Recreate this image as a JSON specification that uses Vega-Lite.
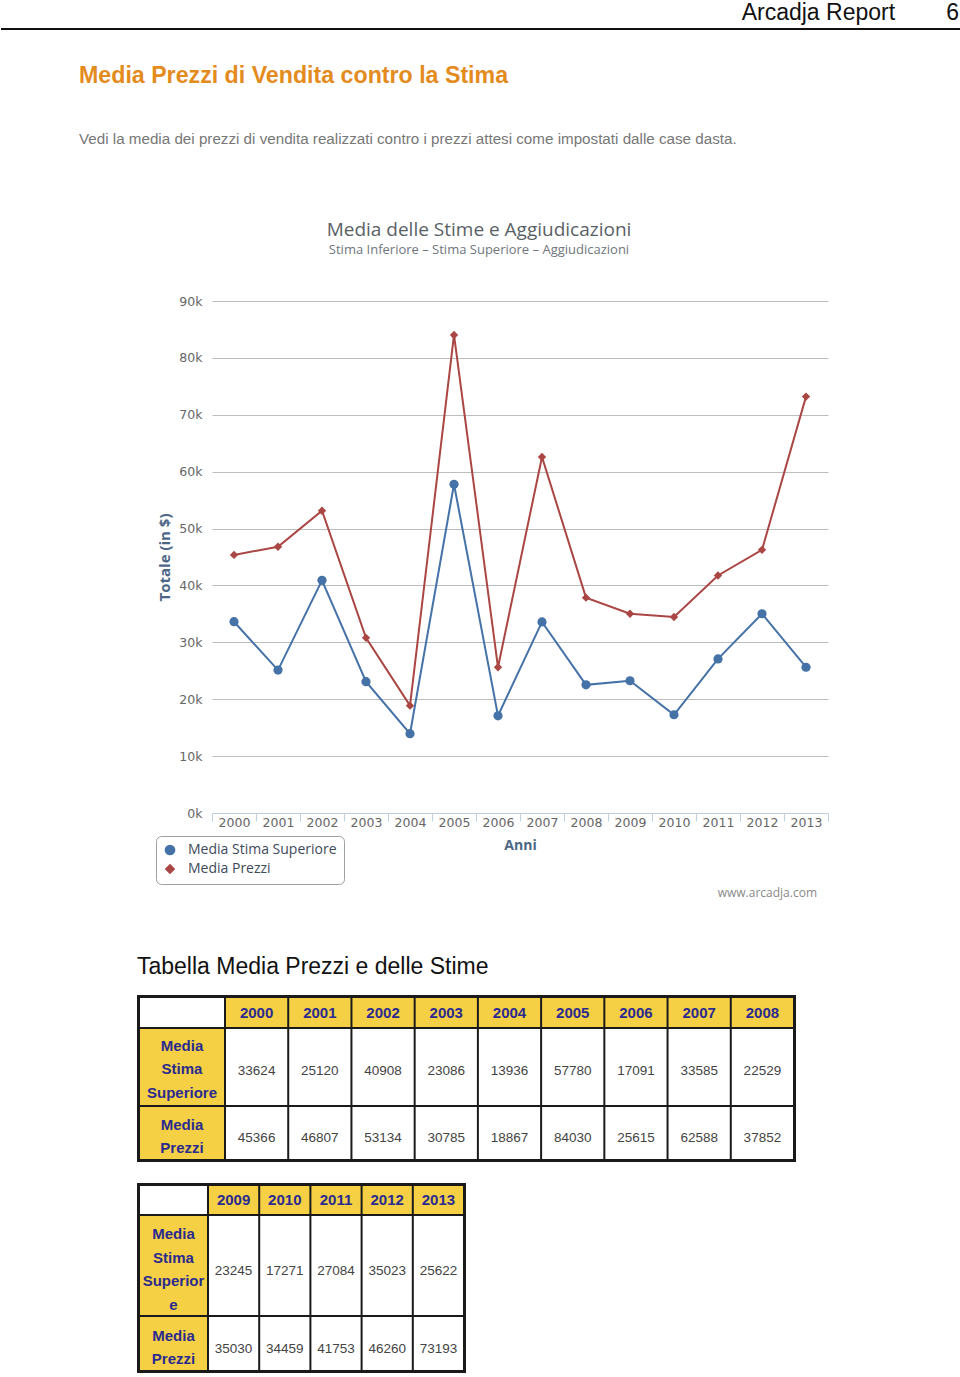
{
  "$schema": "https://vega.github.io/schema/vega-lite/v6.json",
  "padding": {"left": 0, "top": 2, "right": 0, "bottom": 0},
  "background": "#ffffff",
  "spacing": 0,
  "config": {"view": {"stroke": null}},
  "datasets": {
    "series": [
      {"year": "2000", "serie": "Media Stima Superiore", "valore": 33624},
      {"year": "2001", "serie": "Media Stima Superiore", "valore": 25120},
      {"year": "2002", "serie": "Media Stima Superiore", "valore": 40908},
      {"year": "2003", "serie": "Media Stima Superiore", "valore": 23086},
      {"year": "2004", "serie": "Media Stima Superiore", "valore": 13936},
      {"year": "2005", "serie": "Media Stima Superiore", "valore": 57780},
      {"year": "2006", "serie": "Media Stima Superiore", "valore": 17091},
      {"year": "2007", "serie": "Media Stima Superiore", "valore": 33585},
      {"year": "2008", "serie": "Media Stima Superiore", "valore": 22529},
      {"year": "2009", "serie": "Media Stima Superiore", "valore": 23245},
      {"year": "2010", "serie": "Media Stima Superiore", "valore": 17271},
      {"year": "2011", "serie": "Media Stima Superiore", "valore": 27084},
      {"year": "2012", "serie": "Media Stima Superiore", "valore": 35023},
      {"year": "2013", "serie": "Media Stima Superiore", "valore": 25622},
      {"year": "2000", "serie": "Media Prezzi", "valore": 45366},
      {"year": "2001", "serie": "Media Prezzi", "valore": 46807},
      {"year": "2002", "serie": "Media Prezzi", "valore": 53134},
      {"year": "2003", "serie": "Media Prezzi", "valore": 30785},
      {"year": "2004", "serie": "Media Prezzi", "valore": 18867},
      {"year": "2005", "serie": "Media Prezzi", "valore": 84030},
      {"year": "2006", "serie": "Media Prezzi", "valore": 25615},
      {"year": "2007", "serie": "Media Prezzi", "valore": 62588},
      {"year": "2008", "serie": "Media Prezzi", "valore": 37852},
      {"year": "2009", "serie": "Media Prezzi", "valore": 35030},
      {"year": "2010", "serie": "Media Prezzi", "valore": 34459},
      {"year": "2011", "serie": "Media Prezzi", "valore": 41753},
      {"year": "2012", "serie": "Media Prezzi", "valore": 46260},
      {"year": "2013", "serie": "Media Prezzi", "valore": 73193}
    ],
    "labels": [
      {"tabella": 1, "row": "h", "label": ""},
      {"tabella": 1, "row": "s", "label": "Media\nStima\nSuperiore"},
      {"tabella": 1, "row": "p", "label": "Media\nPrezzi"},
      {"tabella": 2, "row": "h", "label": ""},
      {"tabella": 2, "row": "s", "label": "Media\nStima\nSuperior\ne"},
      {"tabella": 2, "row": "p", "label": "Media\nPrezzi"}
    ],
    "vuoto": [{"t": ""}],
    "intestazione": [{"linea": 0}],
    "marchio": [{"sito": "www.arcadja.com"}]
  },
  "vconcat": [
    {
      "width": 960, "height": 34,
      "title": {"text": "Arcadja Report\u00a0\u00a0\u00a0\u00a0\u00a0\u00a0\u00a0\u00a06", "anchor": "end", "frame": "group", "font": "Liberation Sans", "fontSize": 23, "fontWeight": "normal", "color": "#111111", "offset": 3, "dx": -2},
      "data": {"name": "intestazione"},
      "mark": {"type": "rule", "color": "#111111", "strokeWidth": 2},
      "encoding": {"y": {"field": "linea", "type": "quantitative", "scale": {"domain": [0, 1], "reverse": true}, "axis": null}}
    },
    {
      "width": 960, "height": 73,
      "title": {"text": "Media Prezzi di Vendita contro la Stima", "subtitle": "Vedi la media dei prezzi di vendita realizzati contro i prezzi attesi come impostati dalle case dasta.", "anchor": "start", "frame": "group", "dx": 78, "offset": 0, "font": "Liberation Sans", "fontSize": 23.2, "fontWeight": "bold", "color": "#E48B1E", "subtitleFont": "Liberation Sans", "subtitleFontSize": 15.2, "subtitleColor": "#777777", "subtitlePadding": 44},
      "data": {"name": "vuoto"},
      "mark": {"type": "text"},
      "encoding": {"text": {"field": "t"}}
    },
    {
      "spacing": 0,
      "hconcat": [
        {"width": 156, "height": 655, "data": {"name": "vuoto"}, "mark": {"type": "text"}, "encoding": {"text": {"field": "t"}}},
        {
          "width": 616, "height": 512,
          "title": {"text": "Media delle Stime e Aggiudicazioni", "subtitle": "Stima Inferiore \u2013 Stima Superiore \u2013 Aggiudicazioni", "anchor": "middle", "frame": "group", "dx": -41, "offset": 38, "font": "Open Sans", "fontSize": 19, "fontWeight": "normal", "color": "#5a5f66", "subtitleFont": "Open Sans", "subtitleFontSize": 13, "subtitleColor": "#70767e", "subtitlePadding": 4},
          "data": {"name": "series"},
          "layer": [
            {
              "mark": {"type": "line", "strokeWidth": 2},
              "encoding": {
                "x": {"field": "year", "type": "ordinal", "scale": {"type": "band", "paddingInner": 0, "paddingOuter": 0},
                  "axis": {"title": "Anni", "labelAngle": 0, "tickBand": "extent", "tickSize": 8, "tickColor": "#C0D0E0", "domainColor": "#C0D0E0", "labelFont": "DejaVu Sans", "labelFontSize": 12.5, "labelColor": "#666666", "labelPadding": -5, "titleFont": "Open Sans", "titleFontSize": 14, "titleFontWeight": "bold", "titleColor": "#4d6685", "titlePadding": 10, "grid": false}},
                "y": {"field": "valore", "type": "quantitative", "scale": {"domain": [0, 90000], "nice": false, "zero": true},
                  "axis": {"title": "Totale (in $)", "values": [0, 10000, 20000, 30000, 40000, 50000, 60000, 70000, 80000, 90000], "labelExpr": "(datum.value / 1000) + 'k'", "grid": true, "gridColor": "#bdbdbd", "gridWidth": 1, "domain": false, "ticks": false, "labelPadding": 10, "labelFont": "DejaVu Sans", "labelFontSize": 12.5, "labelColor": "#666666", "titleFont": "Open Sans", "titleFontSize": 15, "titleFontWeight": "bold", "titleColor": "#4d6685", "titlePadding": 6}},
                "color": {"field": "serie", "type": "nominal", "scale": {"domain": ["Media Stima Superiore", "Media Prezzi"], "range": ["#4572A7", "#AA4643"]},
                  "legend": {"title": null, "orient": "none", "legendX": 155, "legendY": 807, "direction": "vertical", "padding": 7, "strokeColor": "#a0a0a0", "fillColor": "#ffffff", "cornerRadius": 5, "labelFont": "Open Sans", "labelFontSize": 14, "labelColor": "#3E4A5A", "labelOffset": 11, "rowPadding": 3,
                    "labelExpr": "datum.label + '\u2003\u2003'"}}
              }
            },
            {
              "mark": {"type": "point", "filled": true, "opacity": 1},
              "encoding": {
                "x": {"field": "year", "type": "ordinal"},
                "y": {"field": "valore", "type": "quantitative"},
                "color": {"field": "serie", "type": "nominal"},
                "shape": {"field": "serie", "type": "nominal", "scale": {"domain": ["Media Stima Superiore", "Media Prezzi"], "range": ["circle", "diamond"]}, "legend": null},
                "size": {"field": "serie", "type": "nominal", "scale": {"domain": ["Media Stima Superiore", "Media Prezzi"], "range": [85, 70]}, "legend": null}
              }
            },
            {
              "data": {"name": "marchio"},
              "mark": {"type": "text", "align": "right", "dx": 11, "baseline": "middle", "font": "Open Sans", "fontSize": 12, "fill": "#8a8a8a"},
              "encoding": {
                "x": {"datum": "2013", "type": "ordinal"},
                "y": {"datum": -14000, "type": "quantitative"},
                "text": {"field": "sito"}
              }
            }
          ]
        }
      ]
    },
    {
      "spacing": 0,
      "hconcat": [
        {"width": 136, "height": 188, "data": {"name": "vuoto"}, "mark": {"type": "text"}, "encoding": {"text": {"field": "t"}}},
        {
          "title": {"text": "Tabella Media Prezzi e delle Stime", "anchor": "start", "font": "Liberation Sans", "fontSize": 23, "fontWeight": "normal", "color": "#111111", "offset": 16},
          "spacing": 0,
          "vconcat": [
            {"spacing": 0, "hconcat": [
              {"width": 88, "height": 33, "view": {"fill": "#1a1a1a", "stroke": null},
                "data": {"name": "labels"}, "transform": [{"filter": "datum.tabella === 1 && datum.row === 'h'"}],
                "encoding": {"x": {"field": "row", "type": "nominal", "axis": null, "scale": {"paddingInner": 0, "paddingOuter": 0.0238095, "align": 0.75}},
                  "y": {"field": "row", "type": "nominal", "axis": null, "scale": {"paddingInner": 0, "paddingOuter": 0.0689655, "align": 0.75}}},
                "layer": [{"mark": {"type": "rect", "fill": "#ffffff"}},
                  {"mark": {"type": "text", "font": "Liberation Sans", "fontSize": 15, "fontWeight": "bold", "fill": "#2B2B8F"}, "encoding": {"text": {"field": "label"}}}]},
              {"width": 571, "height": 33, "view": {"fill": "#1a1a1a", "stroke": null},
                "data": {"name": "series"}, "transform": [{"filter": "datum.serie === 'Media Stima Superiore' && toNumber(datum.year) <= 2008"}],
                "encoding": {"x": {"field": "year", "type": "ordinal", "axis": null, "scale": {"paddingInner": 0.0316344, "paddingOuter": 0.0316344, "align": 0.25}},
                  "y": {"field": "serie", "type": "nominal", "axis": null, "scale": {"paddingInner": 0, "paddingOuter": 0.0689655, "align": 0.75}}},
                "layer": [{"mark": {"type": "rect", "fill": "#F5D044"}},
                  {"mark": {"type": "text", "font": "Liberation Sans", "fontSize": 15, "fontWeight": "bold", "fill": "#2B2B8F"}, "encoding": {"text": {"field": "year"}}}]}
            ]},
            {"spacing": 0, "hconcat": [
              {"width": 88, "height": 78, "view": {"fill": "#1a1a1a", "stroke": null},
                "data": {"name": "labels"}, "transform": [{"filter": "datum.tabella === 1 && datum.row === 's'"}],
                "encoding": {"x": {"field": "row", "type": "nominal", "axis": null, "scale": {"paddingInner": 0, "paddingOuter": 0.0238095, "align": 0.75}},
                  "y": {"field": "row", "type": "nominal", "axis": null, "scale": {"paddingInner": 0, "paddingOuter": 0.0131579, "align": 0.5}}},
                "layer": [{"mark": {"type": "rect", "fill": "#F5D044"}},
                  {"mark": {"type": "text", "font": "Liberation Sans", "fontSize": 15, "fontWeight": "bold", "fill": "#2B2B8F", "lineBreak": "\n", "lineHeight": 23.5, "dy": -21.5}, "encoding": {"text": {"field": "label"}}}]},
              {"width": 571, "height": 78, "view": {"fill": "#1a1a1a", "stroke": null},
                "data": {"name": "series"}, "transform": [{"filter": "datum.serie === 'Media Stima Superiore' && toNumber(datum.year) <= 2008"}],
                "encoding": {"x": {"field": "year", "type": "ordinal", "axis": null, "scale": {"paddingInner": 0.0316344, "paddingOuter": 0.0316344, "align": 0.25}},
                  "y": {"field": "serie", "type": "nominal", "axis": null, "scale": {"paddingInner": 0, "paddingOuter": 0.0131579, "align": 0.5}}},
                "layer": [{"mark": {"type": "rect", "fill": "#ffffff"}},
                  {"mark": {"type": "text", "font": "Liberation Sans", "fontSize": 13.5, "fill": "#444444", "dy": 4}, "encoding": {"text": {"field": "valore", "type": "quantitative", "format": "d"}}}]}
            ]},
            {"spacing": 0, "hconcat": [
              {"width": 88, "height": 56, "view": {"fill": "#1a1a1a", "stroke": null},
                "data": {"name": "labels"}, "transform": [{"filter": "datum.tabella === 1 && datum.row === 'p'"}],
                "encoding": {"x": {"field": "row", "type": "nominal", "axis": null, "scale": {"paddingInner": 0, "paddingOuter": 0.0238095, "align": 0.75}},
                  "y": {"field": "row", "type": "nominal", "axis": null, "scale": {"paddingInner": 0, "paddingOuter": 0.0384615, "align": 0.25}}},
                "layer": [{"mark": {"type": "rect", "fill": "#F5D044"}},
                  {"mark": {"type": "text", "font": "Liberation Sans", "fontSize": 15, "fontWeight": "bold", "fill": "#2B2B8F", "lineBreak": "\n", "lineHeight": 23.5, "dy": -8.5}, "encoding": {"text": {"field": "label"}}}]},
              {"width": 571, "height": 56, "view": {"fill": "#1a1a1a", "stroke": null},
                "data": {"name": "series"}, "transform": [{"filter": "datum.serie === 'Media Prezzi' && toNumber(datum.year) <= 2008"}],
                "encoding": {"x": {"field": "year", "type": "ordinal", "axis": null, "scale": {"paddingInner": 0.0316344, "paddingOuter": 0.0316344, "align": 0.25}},
                  "y": {"field": "serie", "type": "nominal", "axis": null, "scale": {"paddingInner": 0, "paddingOuter": 0.0384615, "align": 0.25}}},
                "layer": [{"mark": {"type": "rect", "fill": "#ffffff"}},
                  {"mark": {"type": "text", "font": "Liberation Sans", "fontSize": 13.5, "fill": "#444444", "dy": 5}, "encoding": {"text": {"field": "valore", "type": "quantitative", "format": "d"}}}]}
            ]}
          ]
        }
      ]
    },
    {
      "spacing": 0,
      "hconcat": [
        {"width": 136, "height": 40, "data": {"name": "vuoto"}, "mark": {"type": "text"}, "encoding": {"text": {"field": "t"}}},
        {
          "spacing": 0,
          "vconcat": [
            {"spacing": 0, "hconcat": [
              {"width": 71, "height": 32, "view": {"fill": "#1a1a1a", "stroke": null},
                "data": {"name": "labels"}, "transform": [{"filter": "datum.tabella === 2 && datum.row === 'h'"}],
                "encoding": {"x": {"field": "row", "type": "nominal", "axis": null, "scale": {"paddingInner": 0, "paddingOuter": 0.0298507, "align": 0.75}},
                  "y": {"field": "row", "type": "nominal", "axis": null, "scale": {"paddingInner": 0, "paddingOuter": 0.0714286, "align": 0.75}}},
                "layer": [{"mark": {"type": "rect", "fill": "#ffffff"}},
                  {"mark": {"type": "text", "font": "Liberation Sans", "fontSize": 15, "fontWeight": "bold", "fill": "#2B2B8F"}, "encoding": {"text": {"field": "label"}}}]},
              {"width": 258, "height": 32, "view": {"fill": "#1a1a1a", "stroke": null},
                "data": {"name": "series"}, "transform": [{"filter": "datum.serie === 'Media Stima Superiore' && toNumber(datum.year) >= 2009"}],
                "encoding": {"x": {"field": "year", "type": "ordinal", "axis": null, "scale": {"paddingInner": 0.0390625, "paddingOuter": 0.0390625, "align": 0.25}},
                  "y": {"field": "serie", "type": "nominal", "axis": null, "scale": {"paddingInner": 0, "paddingOuter": 0.0714286, "align": 0.75}}},
                "layer": [{"mark": {"type": "rect", "fill": "#F5D044"}},
                  {"mark": {"type": "text", "font": "Liberation Sans", "fontSize": 15, "fontWeight": "bold", "fill": "#2B2B8F"}, "encoding": {"text": {"field": "year"}}}]}
            ]},
            {"spacing": 0, "hconcat": [
              {"width": 71, "height": 101, "view": {"fill": "#1a1a1a", "stroke": null},
                "data": {"name": "labels"}, "transform": [{"filter": "datum.tabella === 2 && datum.row === 's'"}],
                "encoding": {"x": {"field": "row", "type": "nominal", "axis": null, "scale": {"paddingInner": 0, "paddingOuter": 0.0298507, "align": 0.75}},
                  "y": {"field": "row", "type": "nominal", "axis": null, "scale": {"paddingInner": 0, "paddingOuter": 0.010101, "align": 0.5}}},
                "layer": [{"mark": {"type": "rect", "fill": "#F5D044"}},
                  {"mark": {"type": "text", "font": "Liberation Sans", "fontSize": 15, "fontWeight": "bold", "fill": "#2B2B8F", "lineBreak": "\n", "lineHeight": 23.5, "dy": -31.5}, "encoding": {"text": {"field": "label"}}}]},
              {"width": 258, "height": 101, "view": {"fill": "#1a1a1a", "stroke": null},
                "data": {"name": "series"}, "transform": [{"filter": "datum.serie === 'Media Stima Superiore' && toNumber(datum.year) >= 2009"}],
                "encoding": {"x": {"field": "year", "type": "ordinal", "axis": null, "scale": {"paddingInner": 0.0390625, "paddingOuter": 0.0390625, "align": 0.25}},
                  "y": {"field": "serie", "type": "nominal", "axis": null, "scale": {"paddingInner": 0, "paddingOuter": 0.010101, "align": 0.5}}},
                "layer": [{"mark": {"type": "rect", "fill": "#ffffff"}},
                  {"mark": {"type": "text", "font": "Liberation Sans", "fontSize": 13.5, "fill": "#444444", "dy": 5}, "encoding": {"text": {"field": "valore", "type": "quantitative", "format": "d"}}}]}
            ]},
            {"spacing": 0, "hconcat": [
              {"width": 71, "height": 57, "view": {"fill": "#1a1a1a", "stroke": null},
                "data": {"name": "labels"}, "transform": [{"filter": "datum.tabella === 2 && datum.row === 'p'"}],
                "encoding": {"x": {"field": "row", "type": "nominal", "axis": null, "scale": {"paddingInner": 0, "paddingOuter": 0.0298507, "align": 0.75}},
                  "y": {"field": "row", "type": "nominal", "axis": null, "scale": {"paddingInner": 0, "paddingOuter": 0.0377358, "align": 0.25}}},
                "layer": [{"mark": {"type": "rect", "fill": "#F5D044"}},
                  {"mark": {"type": "text", "font": "Liberation Sans", "fontSize": 15, "fontWeight": "bold", "fill": "#2B2B8F", "lineBreak": "\n", "lineHeight": 23.5, "dy": -8}, "encoding": {"text": {"field": "label"}}}]},
              {"width": 258, "height": 57, "view": {"fill": "#1a1a1a", "stroke": null},
                "data": {"name": "series"}, "transform": [{"filter": "datum.serie === 'Media Prezzi' && toNumber(datum.year) >= 2009"}],
                "encoding": {"x": {"field": "year", "type": "ordinal", "axis": null, "scale": {"paddingInner": 0.0390625, "paddingOuter": 0.0390625, "align": 0.25}},
                  "y": {"field": "serie", "type": "nominal", "axis": null, "scale": {"paddingInner": 0, "paddingOuter": 0.0377358, "align": 0.25}}},
                "layer": [{"mark": {"type": "rect", "fill": "#ffffff"}},
                  {"mark": {"type": "text", "font": "Liberation Sans", "fontSize": 13.5, "fill": "#444444", "dy": 5}, "encoding": {"text": {"field": "valore", "type": "quantitative", "format": "d"}}}]}
            ]}
          ]
        }
      ]
    }
  ]
}
